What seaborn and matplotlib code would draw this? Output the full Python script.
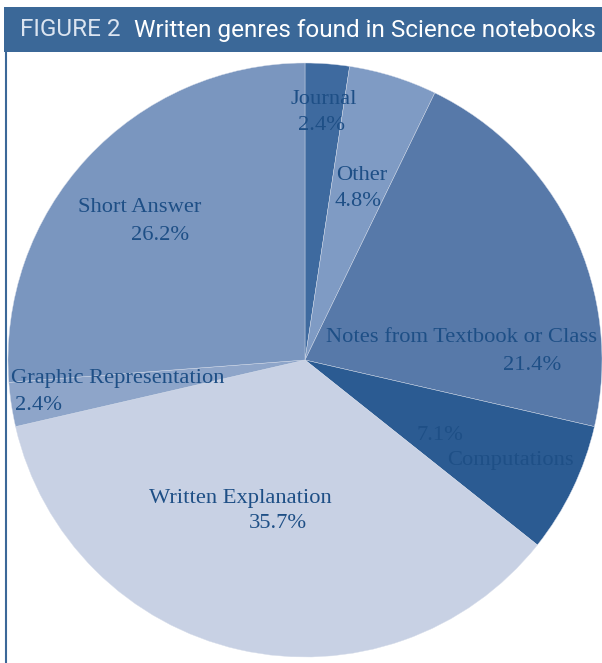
import matplotlib
matplotlib.use("Agg")
import matplotlib.pyplot as plt
import seaborn as sns
import pandas as pd
import numpy as np
from matplotlib.patches import Rectangle
from matplotlib.lines import Line2D

sns.set_theme(style="white")
plt.rcParams['font.family'] = ['Liberation Serif', 'DejaVu Serif']

# ---- data ----
genres = ["Journal", "Other", "Notes from Textbook or Class", "Computations",
          "Written Explanation", "Graphic Representation", "Short Answer"]
percents = [2.4, 4.8, 21.4, 7.1, 35.7, 2.4, 26.2]
pct_labels = ["2.4%", "4.8%", "21.4%", "7.1%", "35.7%", "2.4%", "26.2%"]

colors = ["#3e6a9f", "#7f9bc4", "#5779a9", "#2b5b92", "#c8d1e4", "#8ea5c9", "#7a96bf"]
text_color = "#1e4f86"
bar_color = "#3b6898"

df = pd.DataFrame({"genre": genres, "pct": percents})

W, H = 602, 663
fig = plt.figure(figsize=(W / 100, H / 100), dpi=100)

# pie geometry in pixels
cx, cy, R = 305, 360, 297
ax = fig.add_axes([(cx - R) / W, (H - cy - R) / H, 2 * R / W, 2 * R / H])
ax.pie(df["pct"], colors=colors, startangle=90, counterclock=False,
       radius=1.0, wedgeprops=dict(linewidth=0.3, edgecolor="#d5dcea"))
ax.set_xlim(-1, 1)
ax.set_ylim(-1, 1)
ax.set_aspect("equal")
ax.axis("off")

# label placement (pixel positions in the figure): name centre, pct centre
label_pos = [
    ((324, 99), (322, 125)),
    ((362, 176), (358, 202)),
    ((462, 338), (532, 365)),
    ((510, 460), (440, 436)),
    ((240, 498), (278, 523)),
    ((118, 379), (38, 405)),
    ((140, 208), (160, 235)),
]

fs = 16.2
for g, p, (npos, ppos) in zip(df["genre"], pct_labels, label_pos):
    fig.text(npos[0] / W, 1 - npos[1] / H, g, ha="center", va="center",
             fontsize=fs, color=text_color)
    fig.text(ppos[0] / W, 1 - ppos[1] / H, p, ha="center", va="center",
             fontsize=fs, color=text_color)

# title bar
fig.add_artist(Rectangle((4 / W, 1 - 52 / H), (W - 4) / W, 45 / H,
                         transform=fig.transFigure, facecolor=bar_color,
                         edgecolor="none", zorder=5))
fig.add_artist(Line2D([5.5 / W, 5.5 / W], [0, 1 - 52 / H], transform=fig.transFigure,
                      color=bar_color, linewidth=1.5, zorder=5))
title_font = ['Roboto', 'DejaVu Sans']
fig.text(20 / W, 1 - 30 / H, "FIGURE 2", ha="left", va="center",
         fontsize=17.5, color="#dbe4f0", family=title_font, zorder=6)
fig.text(134 / W, 1 - 30 / H, "Written genres found in Science notebooks",
         ha="left", va="center", fontsize=17.5, color="white",
         family=title_font, zorder=6)

fig.savefig("out.png", dpi=100, facecolor="white")
